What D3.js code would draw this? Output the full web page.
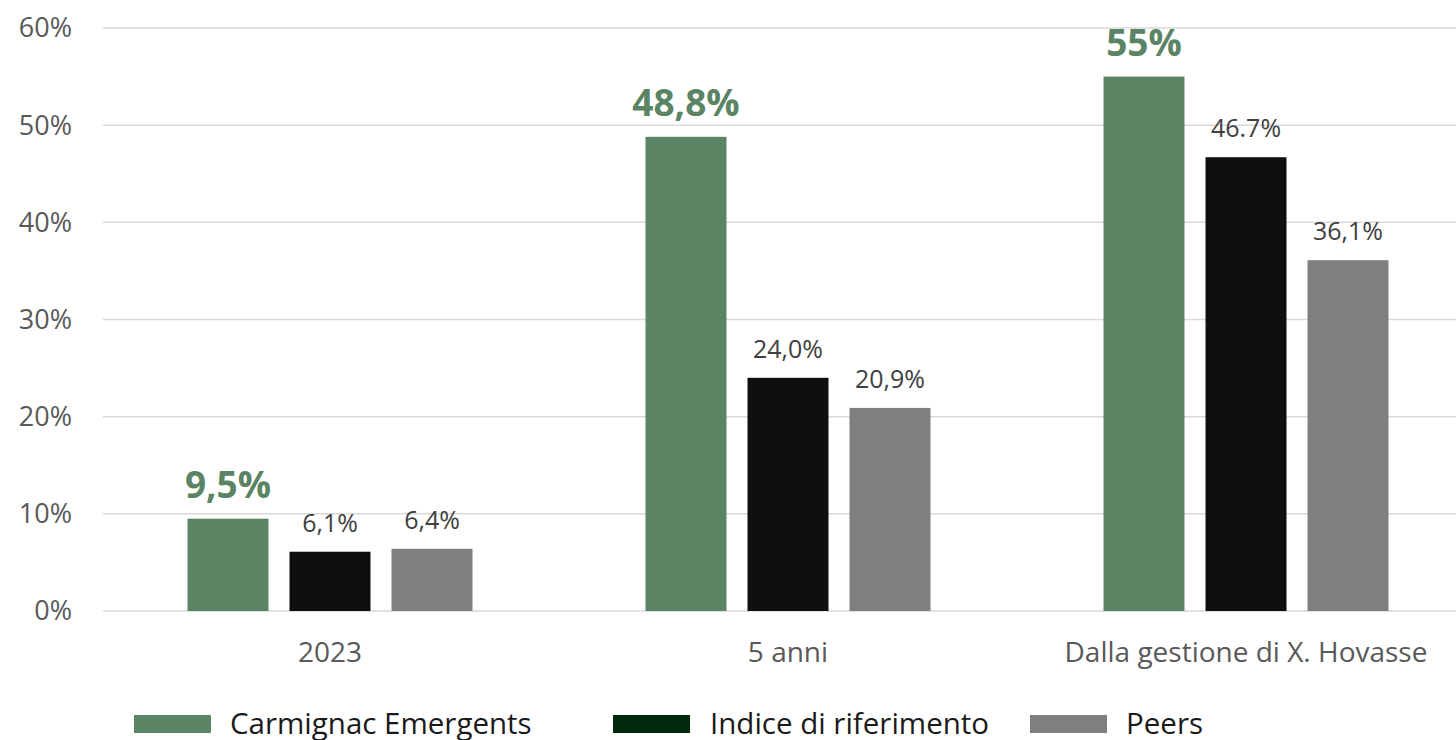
<!DOCTYPE html>
<html><head><meta charset="utf-8">
<script src="https://cdn.jsdelivr.net/npm/d3@7"></script>
<style>
html,body{margin:0;padding:0;background:#fff;}
svg{display:block;font-family:"Open Sans",sans-serif;}
</style></head>
<body><svg id="c" width="1456" height="740"></svg>
<script>
const categories = ["2023", "5 anni", "Dalla gestione di X. Hovasse"];
const seriesNames = ["Carmignac Emergents", "Indice di riferimento", "Peers"];
const carmignac = [9.5, 48.8, 55];
const indice = [6.1, 24.0, 46.7];
const peers = [6.4, 20.9, 36.1];
const carmignacLabels = ["9,5%", "48,8%", "55%"];
const indiceLabels = ["6,1%", "24,0%", "46.7%"];
const peersLabels = ["6,4%", "20,9%", "36,1%"];
const yTicks = [0, 10, 20, 30, 40, 50, 60];

const barColors = ["#5b8465", "#0f0f0f", "#7f7f7f"];
const legendColors = ["#5b8465", "#00280a", "#7f7f7f"];

const series = [
  {name: seriesNames[0], values: carmignac, labels: carmignacLabels},
  {name: seriesNames[1], values: indice, labels: indiceLabels},
  {name: seriesNames[2], values: peers, labels: peersLabels}
];

const svg = d3.select("#c");
const mLeft = 101, mRight = 1475, mTop = 28, mBottom = 611;
const groupW = 285;
const x0 = d3.scaleBand().domain(categories).range([mLeft, mRight]).paddingInner(0).paddingOuter(0);
const y = d3.scaleLinear().domain([0, 60]).range([mBottom, mTop]);
const x1 = d3.scaleBand().domain(d3.range(3)).range([0, groupW]).paddingInner(0.206).paddingOuter(0);
const groupOffset = (x0.bandwidth() - groupW) / 2;

// grid
svg.append("g").selectAll("line").data(yTicks).join("line")
  .attr("x1", 103).attr("x2", 1456)
  .attr("y1", d => y(d)).attr("y2", d => y(d))
  .attr("stroke", "#d9d9d9").attr("stroke-width", 1.5);

// y labels
svg.append("g").selectAll("text").data(yTicks).join("text")
  .attr("x", 72).attr("y", d => y(d)).attr("dy", "0.35em")
  .attr("text-anchor", "end").attr("font-size", 27).attr("fill", "#595959")
  .text(d => d + "%");

// bars
series.forEach((s, si) => {
  const g = svg.append("g");
  g.selectAll("rect").data(s.values).join("rect")
    .attr("x", (d, i) => x0(categories[i]) + groupOffset + x1(si))
    .attr("width", x1.bandwidth())
    .attr("y", d => y(d))
    .attr("height", d => y(0) - y(d))
    .attr("fill", barColors[si]);
  g.selectAll("text").data(s.values).join("text")
    .attr("x", (d, i) => x0(categories[i]) + groupOffset + x1(si) + x1.bandwidth() / 2)
    .attr("y", d => y(d) - (si === 0 ? 21 : 20))
    .attr("text-anchor", "middle")
    .attr("font-size", si === 0 ? 37 : 25)
    .attr("font-weight", si === 0 ? 700 : 400)
    .attr("fill", si === 0 ? "#5b8465" : "#404040")
    .text((d, i) => s.labels[i]);
});

// x labels
svg.append("g").selectAll("text").data(categories).join("text")
  .attr("x", d => x0(d) + x0.bandwidth() / 2).attr("y", 662)
  .attr("text-anchor", "middle").attr("font-size", 28).attr("fill", "#595959")
  .text(d => d);

// legend
const legendPos = [
  {sx: 134, tx: 230},
  {sx: 613, tx: 710},
  {sx: 1030, tx: 1126}
];
const lg = svg.append("g");
seriesNames.forEach((n, i) => {
  const p = legendPos[i];
  lg.append("rect").attr("x", p.sx).attr("y", 715).attr("width", 77).attr("height", 18).attr("fill", legendColors[i]);
  lg.append("text").attr("x", p.tx).attr("y", 734).attr("font-size", 29.5).attr("fill", "#1a1a1a").text(n);
});
</script></body></html>
